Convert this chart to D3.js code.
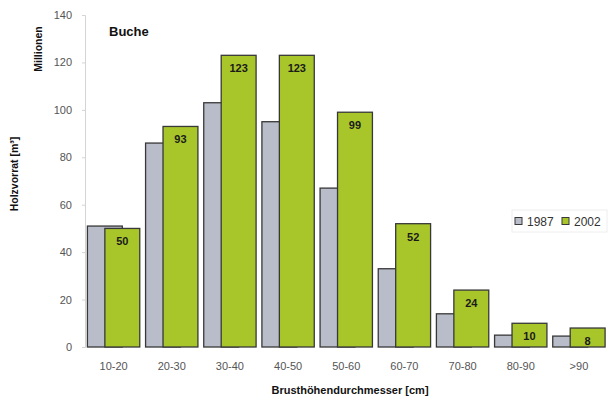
<!DOCTYPE html>
<html>
<head>
<meta charset="utf-8">
<script src="https://cdn.jsdelivr.net/npm/d3@7"></script>
<style>
  html, body { margin: 0; padding: 0; background: #fff; }
  svg { display: block; font-family: "Liberation Sans", Arial, sans-serif; }
</style>
</head>
<body>
<svg id="chart" width="608" height="404"></svg>
<script>
// Holzvorrat der Buche nach Durchmesserklassen (Millionen m³)
const categories = ["10-20", "20-30", "30-40", "40-50", "50-60", "60-70", "70-80", "80-90", ">90"];
const values1987 = [51, 86, 103, 95, 67, 33, 14, 5, 4.6];
const values2002 = [50, 93, 123, 123, 99, 52, 24, 10, 8];
const seriesNames = ["1987", "2002"];
const yTicks = [0, 20, 40, 60, 80, 100, 120, 140];

const colors = { s1987: "#b9bdc9", s2002: "#a8c62a", outline: "#383838", tick: "#555" };

const svg = d3.select("#chart");

const x = d3.scaleBand()
  .domain(categories)
  .range([84.5, 608])
  .paddingInner(0.1)
  .paddingOuter(0.05);

const y = d3.scaleLinear().domain([0, 140]).range([347, 15]);

const barW = x.bandwidth() / 1.5;

// Y axis
const yAxis = svg.append("g")
  .attr("transform", "translate(85,0)")
  .call(d3.axisLeft(y).tickValues(yTicks).tickSize(3).tickPadding(10));
yAxis.select(".domain").attr("stroke", "#d4d4d4");
yAxis.selectAll(".tick line").attr("stroke", "#d4d4d4");
yAxis.selectAll(".tick text")
  .attr("fill", colors.tick)
  .style("font-size", "11px")
  .style("font-family", "'Liberation Sans', Arial, sans-serif");

// X axis labels
const xAxis = svg.append("g")
  .attr("transform", "translate(0,347)")
  .call(d3.axisBottom(x).tickSize(0).tickPadding(15));
xAxis.select(".domain").remove();
xAxis.selectAll(".tick text")
  .attr("fill", colors.tick)
  .style("font-size", "11px")
  .style("font-family", "'Liberation Sans', Arial, sans-serif");

// Bars: 1987 behind, 2002 overlapping by half a bar
svg.append("g").selectAll("rect")
  .data(categories)
  .join("rect")
  .attr("x", d => x(d))
  .attr("y", (d, i) => y(values1987[i]))
  .attr("width", barW)
  .attr("height", (d, i) => y(0) - y(values1987[i]))
  .attr("fill", colors.s1987)
  .attr("stroke", colors.outline)
  .attr("stroke-width", 1.3);

svg.append("g").selectAll("rect")
  .data(categories)
  .join("rect")
  .attr("x", d => x(d) + barW / 2)
  .attr("y", (d, i) => y(values2002[i]))
  .attr("width", barW)
  .attr("height", (d, i) => y(0) - y(values2002[i]))
  .attr("fill", colors.s2002)
  .attr("stroke", colors.outline)
  .attr("stroke-width", 1.3);

// Value labels on 2002 bars
svg.append("g").selectAll("text")
  .data(categories)
  .join("text")
  .attr("x", d => x(d) + barW)
  .attr("y", (d, i) => y(values2002[i]) + 17)
  .attr("text-anchor", "middle")
  .attr("fill", "#1a1a1a")
  .style("font-size", "11px")
  .style("font-weight", "bold")
  .text((d, i) => values2002[i]);

// Titles
svg.append("text")
  .attr("x", 109).attr("y", 36)
  .style("font-size", "13px").style("font-weight", "bold")
  .attr("fill", "#111")
  .text("Buche");

svg.append("text")
  .attr("transform", "translate(42,49) rotate(-90)")
  .attr("text-anchor", "middle")
  .style("font-size", "10.5px").style("font-weight", "bold")
  .attr("fill", "#111")
  .text("Millionen");

svg.append("text")
  .attr("transform", "translate(18,174) rotate(-90)")
  .attr("text-anchor", "middle")
  .style("font-size", "10.5px").style("font-weight", "bold")
  .attr("fill", "#111")
  .text("Holzvorrat [m³]");

svg.append("text")
  .attr("x", 350).attr("y", 394)
  .attr("text-anchor", "middle")
  .style("font-size", "11px").style("font-weight", "bold")
  .attr("fill", "#111")
  .text("Brusthöhendurchmesser [cm]");

// Legend
const legend = svg.append("g").attr("transform", "translate(512,210)");
legend.append("rect")
  .attr("x", 0).attr("y", 0).attr("width", 95).attr("height", 22)
  .attr("fill", "none").attr("stroke", "#eeeeee");
const legendItems = legend.selectAll("g.item")
  .data(seriesNames)
  .join("g")
  .attr("class", "item")
  .attr("transform", (d, i) => `translate(${3 + i * 47},0)`);
legendItems.append("rect")
  .attr("x", 0).attr("y", 7.5).attr("width", 7).attr("height", 7)
  .attr("fill", (d, i) => i === 0 ? colors.s1987 : colors.s2002)
  .attr("stroke", colors.outline).attr("stroke-width", 1);
legendItems.append("text")
  .attr("x", 12).attr("y", 15.5)
  .style("font-size", "12px")
  .attr("fill", "#333")
  .text(d => d);
</script>
</body>
</html>
